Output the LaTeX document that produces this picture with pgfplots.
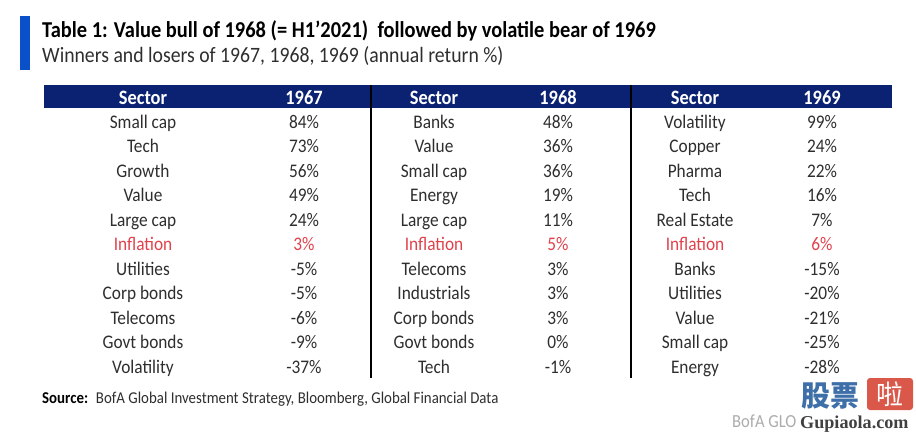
\documentclass[border=0pt]{standalone}
\usepackage{pgfplots}
\pgfplotsset{compat=1.18}
\usepackage{fontspec}
\setmainfont{Carlito}[FakeStretch=0.9]
\newfontfamily\cjk{Noto Sans CJK SC}
\newfontfamily\serifw{Liberation Serif}
\definecolor{navy}{HTML}{0B2272}
\definecolor{titleblue}{HTML}{0A50C8}
\definecolor{txt}{HTML}{2E2E2E}
\definecolor{infl}{HTML}{E0424C}
\definecolor{wmblue}{HTML}{3E6FA8}
\definecolor{wmred}{HTML}{D9584A}
\newcommand{\rowfont}{\fontsize{19.3}{20}\selectfont}
\newcommand{\cellT}[3]{\node[anchor=base, inner sep=0, text=txt] at (axis cs:#1,#2) {\rowfont #3};}
\newcommand{\cellR}[3]{\node[anchor=base, inner sep=0, text=infl] at (axis cs:#1,#2) {\rowfont #3};}
\newcommand{\hdr}[2]{\node[anchor=base, inner sep=0, text=white] at (axis cs:#1,104.5) {\fontsize{20.5}{21}\selectfont\bfseries #2};}
\begin{document}
\begin{tikzpicture}
\begin{axis}[
  width=916bp, height=434bp, scale only axis,
  xmin=0, xmax=916, ymin=0, ymax=434, y dir=reverse,
  hide axis, clip=false,
]
% invisible frame so that the picture spans the whole canvas
\addplot[draw=none, mark=none] coordinates {(0,0) (916,434)};
% title bar
\addplot[fill=titleblue, draw=none] coordinates {(20,16) (30,16) (30,70) (20,70)} --cycle;
% header bar
\addplot[fill=navy, draw=none] coordinates {(44,85) (892,85) (892,108.5) (44,108.5)} --cycle;
% separators
\addplot[black, line width=1.6bp] coordinates {(371,85) (371,378)};
\addplot[black, line width=1.6bp] coordinates {(631,85) (631,378)};

\node[anchor=base west, inner sep=0, text=black] at (axis cs:42,38)
  {\fontsize{22.8}{24}\selectfont\bfseries Table 1: Value bull of 1968 (= H1’2021) \ followed by volatile bear of 1969};
\node[anchor=base west, inner sep=0, text=txt] at (axis cs:42,63)
  {\fontsize{22}{23}\selectfont Winners and losers of 1967, 1968, 1969 (annual return \%)};

\hdr{143}{Sector} \hdr{304}{1967} \hdr{434}{Sector} \hdr{558}{1968} \hdr{695}{Sector} \hdr{822}{1969}

% column 1
\cellT{143}{128}{Small cap}   \cellT{304}{128}{84\%}
\cellT{143}{152.5}{Tech}      \cellT{304}{152.5}{73\%}
\cellT{143}{177}{Growth}      \cellT{304}{177}{56\%}
\cellT{143}{201.5}{Value}     \cellT{304}{201.5}{49\%}
\cellT{143}{226}{Large cap}   \cellT{304}{226}{24\%}
\cellR{143}{250.5}{Inflation} \cellR{304}{250.5}{3\%}
\cellT{143}{275}{Utilities}   \cellT{304}{275}{-5\%}
\cellT{143}{299.5}{Corp bonds} \cellT{304}{299.5}{-5\%}
\cellT{143}{324}{Telecoms}    \cellT{304}{324}{-6\%}
\cellT{143}{348.5}{Govt bonds} \cellT{304}{348.5}{-9\%}
\cellT{143}{373}{Volatility}  \cellT{304}{373}{-37\%}
% column 2
\cellT{434}{128}{Banks}       \cellT{558}{128}{48\%}
\cellT{434}{152.5}{Value}     \cellT{558}{152.5}{36\%}
\cellT{434}{177}{Small cap}   \cellT{558}{177}{36\%}
\cellT{434}{201.5}{Energy}    \cellT{558}{201.5}{19\%}
\cellT{434}{226}{Large cap}   \cellT{558}{226}{11\%}
\cellR{434}{250.5}{Inflation} \cellR{558}{250.5}{5\%}
\cellT{434}{275}{Telecoms}    \cellT{558}{275}{3\%}
\cellT{434}{299.5}{Industrials} \cellT{558}{299.5}{3\%}
\cellT{434}{324}{Corp bonds}  \cellT{558}{324}{3\%}
\cellT{434}{348.5}{Govt bonds} \cellT{558}{348.5}{0\%}
\cellT{434}{373}{Tech}        \cellT{558}{373}{-1\%}
% column 3
\cellT{695}{128}{Volatility}  \cellT{822}{128}{99\%}
\cellT{695}{152.5}{Copper}    \cellT{822}{152.5}{24\%}
\cellT{695}{177}{Pharma}      \cellT{822}{177}{22\%}
\cellT{695}{201.5}{Tech}      \cellT{822}{201.5}{16\%}
\cellT{695}{226}{Real Estate} \cellT{822}{226}{7\%}
\cellR{695}{250.5}{Inflation} \cellR{822}{250.5}{6\%}
\cellT{695}{275}{Banks}       \cellT{822}{275}{-15\%}
\cellT{695}{299.5}{Utilities} \cellT{822}{299.5}{-20\%}
\cellT{695}{324}{Value}       \cellT{822}{324}{-21\%}
\cellT{695}{348.5}{Small cap} \cellT{822}{348.5}{-25\%}
\cellT{695}{373}{Energy}      \cellT{822}{373}{-28\%}

% source
\node[anchor=base west, inner sep=0, text=txt] at (axis cs:42,403)
  {\fontsize{16.6}{17}\selectfont {\bfseries\color{black}Source:} \ BofA Global Investment Strategy, Bloomberg, Global Financial Data};

% watermark
\node[anchor=base west, inner sep=0, text=gray!65] at (axis cs:732,427) {\fontsize{18.5}{19}\selectfont BofA GLO};
\node[anchor=base west, inner sep=0, text=black!75] at (axis cs:800,428) {\serifw\bfseries\fontsize{18.2}{19}\selectfont Gupiaola.com};
\node[anchor=base west, inner sep=0, text=wmblue] at (axis cs:801,406) {\cjk\bfseries\fontsize{29}{30}\selectfont 股票};
\node[anchor=center, inner sep=0, minimum width=46bp, minimum height=32bp, rounded corners=3bp, fill=wmred, text=white] at (axis cs:890,394) {\cjk\fontsize{27}{28}\selectfont 啦};
\end{axis}
\end{tikzpicture}
\end{document}
